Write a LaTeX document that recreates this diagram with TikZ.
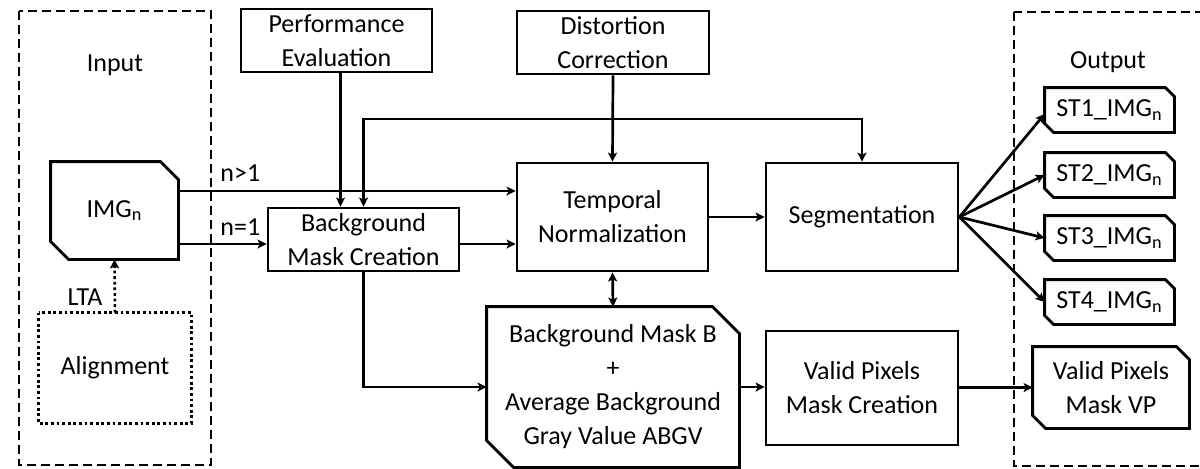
\documentclass[tikz,border=0pt]{standalone}
\usepackage{fontspec}
\setmainfont{Carlito}
\usetikzlibrary{arrows.meta,calc}

\tikzset{
  boxline/.style={line width=1.4pt, line join=miter},
  stepbox/.style={draw, boxline, align=center, inner sep=0pt},
  cutbox/.style={align=center, inner sep=0pt},
  arr/.style={line width=1.35pt, -{Stealth[length=4.5pt,width=4.5pt,inset=1pt]}},
  dualarr/.style={line width=1.35pt, {Stealth[length=4.5pt,width=4.5pt,inset=1pt]}-{Stealth[length=4.5pt,width=4.5pt,inset=1pt]}},
  groupbox/.style={draw, line width=1pt, dash pattern=on 4.5pt off 2.5pt},
  dotbox/.style={line width=1.3pt, dash pattern=on 1.4pt off 1.4pt},
  lbl/.style={inner sep=0pt}
}

% outline with the top-right and bottom-left corners cut off
\newcommand\drawcut[2]{%
  \draw[boxline] (#1.north west) -- ($(#1.north east)+(-#2,0)$) -- ($(#1.north east)+(0,#2)$)
    -- (#1.south east) -- ($(#1.south west)+(#2,0)$) -- ($(#1.south west)+(0,-#2)$) -- cycle;}

\begin{document}
\begin{tikzpicture}[x=0.5pt, y=-0.5pt, font=\fontsize{13}{17}\selectfont]
\useasboundingbox (0,0) rectangle (1200,468);
\clip (0,0) rectangle (1200,468);

% input and output groups
\draw[groupbox] (19,11) rectangle (211,465);
\node[lbl] (inlbl) at (115,65) {Input};
\draw[groupbox] (1014,12) rectangle (1215,466);
\node[lbl] (outlbl) at (1108,62) {Output};

% processing blocks
\node[stepbox, minimum width=95.5pt, minimum height=31.5pt] (perf) at (336.5,40.5) {Performance\\Evaluation};
\node[stepbox, minimum width=96pt, minimum height=31.5pt] (dist) at (613,42.5) {Distortion\\Correction};
\node[stepbox, minimum width=95.5pt, minimum height=54pt] (tn) at (612.5,217) {Temporal\\Normalization};
\node[stepbox, minimum width=95.5pt, minimum height=31.5pt] (bmc) at (363.5,239.5) {Background\\Mask Creation};
\node[stepbox, minimum width=96pt, minimum height=54pt] (seg) at (862,217) {Segmentation};
\node[stepbox, minimum width=96pt, minimum height=57pt] (vpmc) at (862,388) {Valid Pixels\\Mask Creation};

% data blocks
\node[cutbox, minimum width=63.5pt, minimum height=48.5pt] (img) at (114.5,210.5) {\raisebox{-2pt}{IMG\textsubscript{n}}};
\drawcut{img}{18}
\node[cutbox, minimum width=126pt, minimum height=80pt] (bm) at (613,387) {Background Mask B\\+\\Average Background\\Gray Value ABGV};
\drawcut{bm}{27}
\node[cutbox, minimum width=64.5pt, minimum height=22pt] (st1) at (1109.5,110) {ST1\_IMG\textsubscript{n}};
\drawcut{st1}{9}
\node[cutbox, minimum width=64.5pt, minimum height=22pt] (st2) at (1109.5,175) {ST2\_IMG\textsubscript{n}};
\drawcut{st2}{9}
\node[cutbox, minimum width=64.5pt, minimum height=22pt] (st3) at (1109.5,238) {ST3\_IMG\textsubscript{n}};
\drawcut{st3}{9}
\node[cutbox, minimum width=64.5pt, minimum height=22pt] (st4) at (1109.5,302) {ST4\_IMG\textsubscript{n}};
\drawcut{st4}{9}
\node[cutbox, minimum width=78pt, minimum height=40.5pt] (vp) at (1111,387.5) {Valid Pixels\\Mask VP};
\drawcut{vp}{13}

% alignment step
\node[cutbox, minimum width=76pt, minimum height=55pt] (align) at (115,368) {Alignment};
\draw[dotbox] (align.north west) rectangle (align.south east);

% helper rows
\coordinate (ngt) at (0,191);
\coordinate (neq) at (0,244);
\coordinate (bus) at (0,119);

% connectors
\draw[arr] (img.east |- ngt) -- (tn.west |- ngt);
\node[lbl, anchor=west] (lgt) at (220,173) {n>1};
\draw[arr] (img.east |- neq) -- (bmc.west |- neq);
\node[lbl, anchor=west] (leq) at (220,227) {n=1};
\draw[arr] (bmc.east |- neq) -- (tn.west |- neq);
\draw[arr] ($(perf.south)+(4,0)$) -- ($(perf.south |- bmc.north)+(4,0)$);
\draw[arr] (dist.south) -- (tn.north);
\draw[dualarr] (bmc.north) |- (bus -| seg.north) -- (seg.north);
\draw[arr] (tn.east) -- (seg.west);
\draw[dualarr] (tn.south) -- (bm.north);
\draw[arr] (bmc.south) |- (bm.west);
\draw[arr] (bm.east) -- (vpmc.west |- bm.east);
\draw[arr] (vpmc.east |- vp.west) -- (vp.west);
\draw[arr] (seg.east) -- ($(st1.west)+(0,4)$);
\draw[arr] (seg.east) -- (st2.west);
\draw[arr] (seg.east) -- (st3.west);
\draw[arr] (seg.east) -- (st4.west);
\draw[dotbox, -{Stealth[length=4.5pt,width=4.5pt,inset=1pt]}] (align.north) -- (img.south);
\node[lbl] (lta) at (85,297) {LTA};
\end{tikzpicture}
\end{document}
